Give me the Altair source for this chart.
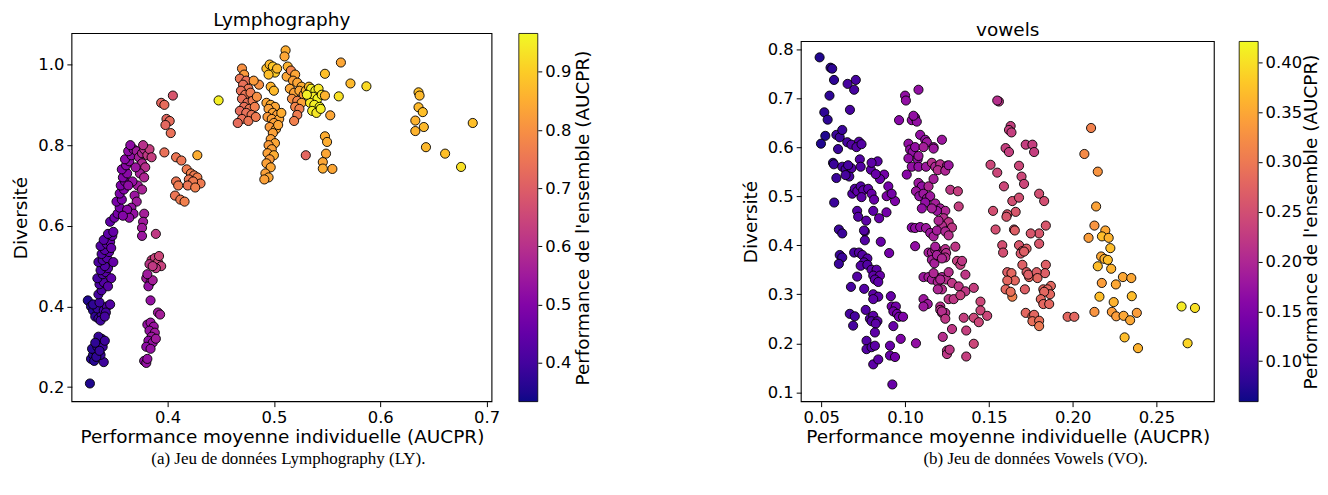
import altair as alt
import pandas as pd

FONT = "DejaVu Sans"
SERIF = "Liberation Serif"

X_TITLE = "Performance moyenne individuelle (AUCPR)"
Y_TITLE = "Diversité"
CB_TITLE = "Performance de l'ensemble (AUCPR)"

# ---------------- Lymphography (x, y, color) ----------------
ly_base = [(0.327, 0.209, 0.35),
           (0.328, 0.270, 0.36), (0.330, 0.280, 0.36), (0.332, 0.290, 0.37), (0.329, 0.295, 0.36),
           (0.334, 0.300, 0.37), (0.336, 0.310, 0.38), (0.338, 0.320, 0.38), (0.335, 0.325, 0.38),
           (0.331, 0.265, 0.36), (0.340, 0.262, 0.39), (0.337, 0.280, 0.38), (0.333, 0.275, 0.37),
           (0.339, 0.300, 0.39), (0.341, 0.315, 0.39), (0.336, 0.290, 0.38), (0.332, 0.310, 0.37)]
ly_mid = [(0.325, 0.415, 0.35), (0.328, 0.400, 0.36), (0.330, 0.390, 0.36), (0.332, 0.375, 0.37),
          (0.335, 0.370, 0.38), (0.338, 0.380, 0.39), (0.334, 0.395, 0.38), (0.340, 0.390, 0.40),
          (0.343, 0.400, 0.41), (0.346, 0.405, 0.42), (0.342, 0.385, 0.40), (0.337, 0.365, 0.39),
          (0.330, 0.405, 0.37), (0.336, 0.410, 0.39), (0.341, 0.375, 0.40)]
ly_col = [(0.335, 0.430, 0.40), (0.338, 0.440, 0.41), (0.336, 0.455, 0.41), (0.340, 0.460, 0.42),
          (0.334, 0.470, 0.40), (0.339, 0.480, 0.42), (0.342, 0.485, 0.43), (0.337, 0.490, 0.41),
          (0.344, 0.495, 0.43), (0.341, 0.500, 0.42), (0.335, 0.510, 0.41), (0.339, 0.515, 0.42),
          (0.343, 0.520, 0.43), (0.338, 0.530, 0.42), (0.345, 0.535, 0.44), (0.341, 0.540, 0.43),
          (0.337, 0.550, 0.42), (0.343, 0.555, 0.44), (0.346, 0.560, 0.45), (0.340, 0.565, 0.43),
          (0.348, 0.575, 0.45), (0.344, 0.580, 0.44), (0.347, 0.470, 0.44), (0.344, 0.450, 0.43),
          (0.349, 0.510, 0.45), (0.347, 0.545, 0.45), (0.346, 0.610, 0.44), (0.349, 0.585, 0.45)]
ly_upper = [(0.350, 0.620, 0.47), (0.353, 0.630, 0.48), (0.355, 0.645, 0.48), (0.352, 0.660, 0.48),
            (0.357, 0.665, 0.49), (0.355, 0.680, 0.49), (0.359, 0.690, 0.50), (0.356, 0.700, 0.49),
            (0.360, 0.710, 0.50), (0.358, 0.720, 0.50), (0.362, 0.730, 0.51), (0.357, 0.740, 0.50),
            (0.361, 0.750, 0.51), (0.364, 0.760, 0.52), (0.360, 0.765, 0.51), (0.366, 0.775, 0.52),
            (0.363, 0.785, 0.52), (0.368, 0.790, 0.53), (0.365, 0.800, 0.52), (0.371, 0.785, 0.55),
            (0.373, 0.770, 0.56), (0.376, 0.780, 0.58), (0.378, 0.790, 0.60), (0.381, 0.775, 0.62),
            (0.376, 0.755, 0.58), (0.379, 0.745, 0.60), (0.374, 0.730, 0.56), (0.378, 0.720, 0.58),
            (0.372, 0.700, 0.55), (0.376, 0.690, 0.57), (0.369, 0.675, 0.54), (0.371, 0.660, 0.55),
            (0.366, 0.645, 0.53), (0.368, 0.630, 0.53), (0.362, 0.640, 0.51), (0.364, 0.620, 0.52),
            (0.358, 0.625, 0.50), (0.367, 0.710, 0.53), (0.363, 0.700, 0.52), (0.370, 0.745, 0.54),
            (0.383, 0.790, 0.63), (0.385, 0.770, 0.63), (0.377, 0.800, 0.60)]
ly_second = [(0.378, 0.630, 0.56), (0.377, 0.610, 0.55), (0.376, 0.595, 0.55), (0.376, 0.575, 0.54),
             (0.389, 0.580, 0.62),
             (0.385, 0.515, 0.63), (0.388, 0.520, 0.64), (0.391, 0.510, 0.65), (0.394, 0.500, 0.64),
             (0.389, 0.495, 0.62), (0.383, 0.505, 0.61), (0.392, 0.525, 0.65), (0.386, 0.500, 0.62),
             (0.380, 0.470, 0.55), (0.384, 0.460, 0.54), (0.382, 0.450, 0.53), (0.386, 0.465, 0.56),
             (0.381, 0.480, 0.55), (0.384, 0.415, 0.53), (0.391, 0.385, 0.55), (0.393, 0.380, 0.56),
             (0.381, 0.355, 0.53), (0.384, 0.360, 0.54), (0.387, 0.350, 0.54), (0.383, 0.340, 0.53),
             (0.388, 0.335, 0.55), (0.385, 0.325, 0.54), (0.382, 0.315, 0.52), (0.386, 0.310, 0.53),
             (0.380, 0.300, 0.52), (0.389, 0.320, 0.55), (0.384, 0.295, 0.53),
             (0.378, 0.265, 0.52), (0.380, 0.260, 0.53), (0.381, 0.270, 0.53)]
ly_coral = [(0.405, 0.923, 0.68), (0.394, 0.905, 0.72), (0.397, 0.900, 0.73), (0.399, 0.865, 0.72),
            (0.402, 0.860, 0.73), (0.398, 0.850, 0.72), (0.403, 0.830, 0.74),
            (0.397, 0.782, 0.74), (0.408, 0.770, 0.75), (0.413, 0.762, 0.75), (0.428, 0.775, 0.85),
            (0.418, 0.740, 0.76), (0.422, 0.730, 0.77), (0.425, 0.725, 0.76), (0.420, 0.715, 0.75),
            (0.428, 0.720, 0.77), (0.431, 0.705, 0.76), (0.424, 0.710, 0.76), (0.419, 0.700, 0.75),
            (0.426, 0.695, 0.77), (0.408, 0.710, 0.75), (0.410, 0.700, 0.76), (0.407, 0.675, 0.75),
            (0.412, 0.665, 0.76), (0.416, 0.660, 0.77), (0.448, 0.911, 0.95)]
ly_coral2 = [(0.470, 0.990, 0.80), (0.472, 0.975, 0.82), (0.468, 0.965, 0.75), (0.474, 0.960, 0.74),
             (0.471, 0.950, 0.74), (0.476, 0.940, 0.75), (0.469, 0.935, 0.74), (0.473, 0.925, 0.75),
             (0.478, 0.930, 0.76), (0.470, 0.915, 0.74), (0.475, 0.905, 0.74), (0.480, 0.910, 0.76),
             (0.472, 0.895, 0.74), (0.477, 0.890, 0.75), (0.482, 0.895, 0.77), (0.468, 0.885, 0.73),
             (0.474, 0.880, 0.74), (0.479, 0.875, 0.75), (0.470, 0.865, 0.74), (0.476, 0.860, 0.75),
             (0.466, 0.855, 0.73), (0.483, 0.870, 0.76), (0.486, 0.950, 0.80), (0.484, 0.920, 0.80),
             (0.481, 0.960, 0.82)]
ly_orange = [(0.493, 0.905, 0.84), (0.497, 0.900, 0.85), (0.501, 0.895, 0.84), (0.495, 0.890, 0.83),
             (0.499, 0.880, 0.84), (0.503, 0.875, 0.83), (0.494, 0.870, 0.82), (0.498, 0.865, 0.83),
             (0.505, 0.865, 0.84), (0.500, 0.855, 0.83), (0.496, 0.845, 0.82), (0.502, 0.840, 0.84),
             (0.499, 0.830, 0.83), (0.497, 0.815, 0.83), (0.501, 0.805, 0.84), (0.495, 0.800, 0.82),
             (0.498, 0.790, 0.83), (0.494, 0.780, 0.83), (0.500, 0.775, 0.85), (0.496, 0.765, 0.82),
             (0.493, 0.755, 0.83), (0.497, 0.745, 0.84), (0.492, 0.730, 0.83), (0.495, 0.720, 0.84),
             (0.491, 0.715, 0.83), (0.504, 0.850, 0.84), (0.507, 0.880, 0.85),
             (0.493, 0.990, 0.88), (0.496, 1.000, 0.87), (0.499, 0.995, 0.89), (0.501, 0.980, 0.90),
             (0.495, 0.975, 0.88), (0.503, 0.990, 0.87), (0.511, 1.035, 0.85), (0.510, 1.020, 0.84),
             (0.513, 0.995, 0.86), (0.512, 0.970, 0.84), (0.497, 0.945, 0.86), (0.500, 0.935, 0.87)]
ly_mixed = [(0.516, 0.985, 0.78), (0.520, 0.975, 0.84), (0.518, 0.960, 0.83), (0.522, 0.955, 0.84),
            (0.526, 0.945, 0.85), (0.515, 0.940, 0.84), (0.519, 0.930, 0.83), (0.524, 0.935, 0.84),
            (0.528, 0.925, 0.82), (0.517, 0.915, 0.80), (0.522, 0.910, 0.78), (0.526, 0.905, 0.83),
            (0.520, 0.895, 0.78), (0.524, 0.890, 0.77), (0.522, 0.875, 0.76), (0.519, 0.860, 0.77),
            (0.530, 0.935, 0.86), (0.533, 0.945, 0.88), (0.530, 0.775, 0.72)]
ly_yellow = [(0.535, 0.940, 0.95), (0.539, 0.935, 0.96), (0.542, 0.940, 0.94), (0.537, 0.920, 0.95),
             (0.541, 0.915, 0.96), (0.545, 0.925, 0.94), (0.534, 0.905, 0.94), (0.538, 0.900, 0.95),
             (0.543, 0.895, 0.96), (0.536, 0.885, 0.95), (0.540, 0.880, 0.94), (0.544, 0.890, 0.95),
             (0.531, 0.925, 0.95)]
ly_right = [(0.548, 0.977, 0.88), (0.563, 1.005, 0.84), (0.572, 0.953, 0.87), (0.587, 0.946, 0.92),
            (0.561, 0.921, 0.93), (0.548, 0.923, 0.86), (0.553, 0.874, 0.84),
            (0.548, 0.822, 0.85), (0.550, 0.808, 0.85), (0.549, 0.779, 0.84), (0.546, 0.758, 0.84),
            (0.546, 0.742, 0.85), (0.555, 0.741, 0.84),
            (0.636, 0.931, 0.88), (0.637, 0.923, 0.87), (0.636, 0.894, 0.87), (0.640, 0.882, 0.88),
            (0.633, 0.861, 0.86), (0.641, 0.845, 0.87), (0.633, 0.835, 0.86), (0.643, 0.795, 0.87),
            (0.661, 0.779, 0.88), (0.676, 0.746, 0.93), (0.687, 0.855, 0.88)]

# ---------------- vowels (x, y, color) ----------------
vo_c1_top = [(0.049, 0.783, 0.07), (0.0555, 0.762, 0.08), (0.0565, 0.760, 0.08), (0.0576, 0.737, 0.08),
             (0.0549, 0.705, 0.08), (0.0657, 0.729, 0.10), (0.0706, 0.737, 0.10), (0.0696, 0.717, 0.10),
             (0.0518, 0.671, 0.08), (0.0538, 0.656, 0.08), (0.0671, 0.676, 0.10), (0.0524, 0.623, 0.07),
             (0.059, 0.625, 0.09), (0.061, 0.620, 0.09), (0.0625, 0.635, 0.09), (0.0498, 0.607, 0.07),
             (0.060, 0.596, 0.09), (0.0655, 0.610, 0.10), (0.068, 0.605, 0.11), (0.0725, 0.611, 0.11),
             (0.071, 0.600, 0.11), (0.074, 0.606, 0.11), (0.057, 0.568, 0.08), (0.0575, 0.565, 0.09),
             (0.0625, 0.560, 0.10), (0.0645, 0.555, 0.10), (0.068, 0.557, 0.11), (0.066, 0.563, 0.10),
             (0.073, 0.575, 0.11), (0.0735, 0.560, 0.11), (0.0667, 0.540, 0.10), (0.0645, 0.543, 0.10),
             (0.059, 0.537, 0.09), (0.0796, 0.554, 0.12), (0.0836, 0.571, 0.12), (0.0685, 0.505, 0.11),
             (0.070, 0.515, 0.11), (0.0715, 0.510, 0.12), (0.0735, 0.520, 0.11), (0.075, 0.512, 0.12),
             (0.074, 0.498, 0.12), (0.078, 0.515, 0.12), (0.080, 0.505, 0.13), (0.0577, 0.487, 0.09),
             (0.0815, 0.493, 0.13), (0.0714, 0.470, 0.11), (0.072, 0.458, 0.11), (0.0768, 0.450, 0.12),
             (0.0875, 0.544, 0.14), (0.089, 0.500, 0.15), (0.094, 0.490, 0.15), (0.0889, 0.467, 0.14),
             (0.076, 0.428, 0.11), (0.080, 0.568, 0.12), (0.085, 0.535, 0.13), (0.0825, 0.545, 0.13),
             (0.090, 0.520, 0.14), (0.092, 0.505, 0.14), (0.081, 0.470, 0.12), (0.0845, 0.455, 0.13)]
vo_c1_low = [(0.0605, 0.432, 0.09), (0.0625, 0.424, 0.09), (0.061, 0.380, 0.09), (0.0625, 0.375, 0.09),
             (0.0605, 0.362, 0.09), (0.0696, 0.385, 0.10), (0.0725, 0.385, 0.11), (0.0745, 0.380, 0.11),
             (0.0775, 0.373, 0.11), (0.0755, 0.365, 0.11), (0.0735, 0.358, 0.11), (0.0775, 0.360, 0.11),
             (0.0755, 0.430, 0.11), (0.076, 0.410, 0.11), (0.0855, 0.407, 0.13), (0.0905, 0.384, 0.14),
             (0.0714, 0.336, 0.11), (0.0677, 0.315, 0.10), (0.0756, 0.311, 0.11), (0.080, 0.350, 0.12),
             (0.083, 0.350, 0.12), (0.081, 0.338, 0.12), (0.085, 0.338, 0.13), (0.082, 0.330, 0.12),
             (0.084, 0.325, 0.12), (0.081, 0.300, 0.12), (0.084, 0.295, 0.12), (0.081, 0.290, 0.12),
             (0.0915, 0.296, 0.13), (0.067, 0.260, 0.10), (0.070, 0.255, 0.10), (0.069, 0.236, 0.10),
             (0.0765, 0.268, 0.11), (0.079, 0.250, 0.11), (0.081, 0.256, 0.12), (0.080, 0.245, 0.11),
             (0.0835, 0.245, 0.12), (0.0825, 0.240, 0.12), (0.082, 0.222, 0.12), (0.077, 0.205, 0.11),
             (0.077, 0.188, 0.11), (0.080, 0.192, 0.11), (0.082, 0.195, 0.12), (0.081, 0.157, 0.12),
             (0.084, 0.167, 0.12), (0.091, 0.195, 0.13), (0.091, 0.175, 0.13), (0.094, 0.172, 0.14),
             (0.092, 0.275, 0.14), (0.0945, 0.275, 0.14), (0.093, 0.265, 0.14), (0.0952, 0.260, 0.14),
             (0.0964, 0.254, 0.14), (0.0988, 0.254, 0.15), (0.093, 0.235, 0.13), (0.0974, 0.209, 0.15),
             (0.0924, 0.116, 0.13)]
vo_c2_top = [(0.100, 0.705, 0.17), (0.1005, 0.695, 0.17), (0.108, 0.717, 0.17), (0.0964, 0.655, 0.16),
             (0.104, 0.655, 0.17), (0.106, 0.660, 0.17), (0.107, 0.652, 0.17), (0.105, 0.664, 0.17),
             (0.102, 0.607, 0.17), (0.103, 0.595, 0.17), (0.1045, 0.590, 0.17), (0.106, 0.600, 0.17),
             (0.109, 0.625, 0.17), (0.112, 0.615, 0.17), (0.113, 0.610, 0.18), (0.111, 0.600, 0.19),
             (0.117, 0.600, 0.18), (0.122, 0.615, 0.18), (0.117, 0.597, 0.18), (0.102, 0.577, 0.17),
             (0.1075, 0.575, 0.17), (0.108, 0.582, 0.18), (0.101, 0.544, 0.16), (0.104, 0.560, 0.17),
             (0.108, 0.560, 0.17), (0.1125, 0.560, 0.18), (0.116, 0.568, 0.21), (0.118, 0.560, 0.20),
             (0.121, 0.565, 0.21), (0.125, 0.562, 0.20), (0.1195, 0.553, 0.21), (0.124, 0.552, 0.20),
             (0.126, 0.563, 0.18), (0.108, 0.527, 0.18), (0.110, 0.520, 0.17), (0.1065, 0.510, 0.18),
             (0.1085, 0.500, 0.17), (0.111, 0.505, 0.18), (0.113, 0.495, 0.18), (0.115, 0.500, 0.18),
             (0.112, 0.487, 0.17), (0.114, 0.520, 0.20), (0.117, 0.535, 0.19), (0.118, 0.485, 0.19),
             (0.121, 0.475, 0.19), (0.124, 0.470, 0.20), (0.119, 0.470, 0.18), (0.116, 0.475, 0.19),
             (0.110, 0.475, 0.17), (0.127, 0.513, 0.22), (0.1315, 0.510, 0.23), (0.132, 0.479, 0.23),
             (0.123, 0.455, 0.21), (0.126, 0.447, 0.22), (0.122, 0.440, 0.21), (0.128, 0.436, 0.22),
             (0.120, 0.450, 0.20)]
vo_c2_low = [(0.104, 0.436, 0.16), (0.106, 0.435, 0.17), (0.109, 0.437, 0.17), (0.1125, 0.435, 0.18),
             (0.115, 0.425, 0.18), (0.117, 0.418, 0.19), (0.119, 0.430, 0.19), (0.124, 0.428, 0.20),
             (0.126, 0.420, 0.21), (0.106, 0.398, 0.17), (0.114, 0.385, 0.19), (0.116, 0.385, 0.19),
             (0.118, 0.390, 0.20), (0.120, 0.388, 0.20), (0.116, 0.370, 0.19), (0.1175, 0.363, 0.19),
             (0.120, 0.377, 0.20), (0.122, 0.382, 0.21), (0.124, 0.392, 0.21), (0.1245, 0.384, 0.21),
             (0.124, 0.375, 0.21), (0.130, 0.397, 0.22), (0.118, 0.397, 0.19), (0.119, 0.380, 0.19),
             (0.122, 0.373, 0.20), (0.131, 0.368, 0.23), (0.133, 0.360, 0.23), (0.134, 0.368, 0.22),
             (0.111, 0.335, 0.18), (0.114, 0.335, 0.19), (0.118, 0.336, 0.20), (0.122, 0.335, 0.20),
             (0.116, 0.330, 0.19), (0.1195, 0.325, 0.20), (0.1245, 0.330, 0.21), (0.122, 0.310, 0.21),
             (0.1195, 0.310, 0.20), (0.117, 0.343, 0.20), (0.121, 0.330, 0.20), (0.126, 0.345, 0.21),
             (0.128, 0.323, 0.22), (0.132, 0.316, 0.22), (0.136, 0.306, 0.22), (0.136, 0.340, 0.22),
             (0.141, 0.313, 0.23), (0.111, 0.290, 0.18), (0.1135, 0.280, 0.18), (0.111, 0.275, 0.18),
             (0.1065, 0.200, 0.17), (0.121, 0.275, 0.21), (0.122, 0.262, 0.21), (0.124, 0.262, 0.21),
             (0.121, 0.268, 0.21), (0.125, 0.185, 0.22), (0.125, 0.178, 0.22),
             (0.126, 0.290, 0.22), (0.129, 0.290, 0.22), (0.133, 0.298, 0.23), (0.145, 0.285, 0.24),
             (0.145, 0.267, 0.24), (0.149, 0.256, 0.24), (0.122, 0.265, 0.21), (0.124, 0.250, 0.22),
             (0.128, 0.229, 0.22), (0.135, 0.252, 0.23), (0.141, 0.252, 0.24), (0.144, 0.243, 0.24),
             (0.1365, 0.226, 0.23), (0.1225, 0.213, 0.21), (0.141, 0.199, 0.24), (0.1266, 0.187, 0.22),
             (0.1365, 0.173, 0.23)]
vo_c3 = [(0.156, 0.693, 0.22), (0.155, 0.695, 0.21), (0.163, 0.643, 0.23), (0.162, 0.635, 0.23),
         (0.1635, 0.630, 0.23), (0.160, 0.598, 0.23), (0.162, 0.590, 0.23), (0.172, 0.605, 0.23),
         (0.176, 0.605, 0.23), (0.177, 0.590, 0.23), (0.151, 0.564, 0.24), (0.155, 0.548, 0.24),
         (0.168, 0.562, 0.24), (0.1695, 0.540, 0.24), (0.171, 0.525, 0.24), (0.180, 0.505, 0.25),
         (0.183, 0.490, 0.25), (0.164, 0.490, 0.25), (0.168, 0.497, 0.25), (0.166, 0.468, 0.26),
         (0.161, 0.463, 0.26), (0.1605, 0.458, 0.26), (0.154, 0.432, 0.25), (0.165, 0.432, 0.26),
         (0.1655, 0.430, 0.27), (0.184, 0.440, 0.26), (0.180, 0.424, 0.26), (0.175, 0.424, 0.26),
         (0.158, 0.400, 0.25), (0.1585, 0.385, 0.25), (0.168, 0.400, 0.26), (0.170, 0.388, 0.27),
         (0.1725, 0.393, 0.27), (0.169, 0.383, 0.26), (0.171, 0.387, 0.27), (0.180, 0.403, 0.26),
         (0.170, 0.360, 0.27), (0.1725, 0.345, 0.27), (0.174, 0.335, 0.28), (0.1735, 0.340, 0.27),
         (0.161, 0.345, 0.27), (0.1635, 0.343, 0.28), (0.184, 0.360, 0.27), (0.1835, 0.343, 0.27),
         (0.1785, 0.345, 0.27), (0.179, 0.333, 0.28), (0.1655, 0.328, 0.28), (0.161, 0.328, 0.28),
         (0.160, 0.310, 0.28), (0.164, 0.295, 0.31), (0.163, 0.305, 0.29), (0.1715, 0.310, 0.27),
         (0.1825, 0.310, 0.28), (0.187, 0.317, 0.28), (0.185, 0.310, 0.28), (0.1865, 0.300, 0.28),
         (0.183, 0.305, 0.28), (0.181, 0.290, 0.28), (0.1825, 0.280, 0.28), (0.186, 0.280, 0.28),
         (0.172, 0.262, 0.28), (0.176, 0.255, 0.29), (0.177, 0.258, 0.28), (0.176, 0.245, 0.29),
         (0.180, 0.246, 0.29), (0.180, 0.235, 0.30), (0.197, 0.254, 0.28), (0.201, 0.254, 0.28),
         (0.1525, 0.470, 0.25), (0.159, 0.520, 0.24)]
vo_c4 = [(0.211, 0.639, 0.31), (0.207, 0.586, 0.32), (0.215, 0.550, 0.33), (0.214, 0.479, 0.345),
         (0.213, 0.440, 0.33), (0.2095, 0.415, 0.34), (0.2195, 0.430, 0.35), (0.2175, 0.418, 0.37),
         (0.2215, 0.415, 0.36), (0.2225, 0.394, 0.37), (0.217, 0.377, 0.35), (0.219, 0.372, 0.36),
         (0.221, 0.370, 0.37), (0.215, 0.357, 0.37), (0.223, 0.352, 0.36), (0.230, 0.335, 0.35),
         (0.235, 0.333, 0.35), (0.2258, 0.320, 0.35), (0.2174, 0.323, 0.34), (0.216, 0.295, 0.37),
         (0.2353, 0.296, 0.37), (0.2245, 0.284, 0.36), (0.213, 0.264, 0.33), (0.2234, 0.264, 0.34),
         (0.226, 0.255, 0.34), (0.2304, 0.256, 0.35), (0.2343, 0.247, 0.35), (0.2383, 0.262, 0.34),
         (0.231, 0.212, 0.37), (0.239, 0.190, 0.36),
         (0.265, 0.275, 0.41), (0.273, 0.272, 0.40), (0.2686, 0.200, 0.39)]

# axes / scales
LY_XDOM = [0.310, 0.705]
LY_YDOM = [0.164, 1.077]
LY_CDOM = [0.333, 0.966]
LY_XTICKS = [0.4, 0.5, 0.6, 0.7]
LY_YTICKS = [0.2, 0.4, 0.6, 0.8, 1.0]
LY_CTICKS = [0.4, 0.5, 0.6, 0.7, 0.8, 0.9]

VO_XDOM = [0.038, 0.2845]
VO_YDOM = [0.081, 0.8155]
VO_CDOM = [0.0594, 0.421]
VO_XTICKS = [0.05, 0.10, 0.15, 0.20, 0.25]
VO_YTICKS = [0.1, 0.2, 0.3, 0.4, 0.5, 0.6, 0.7, 0.8]
VO_CTICKS = [0.10, 0.15, 0.20, 0.25, 0.30, 0.35, 0.40]

TITLES = ["Lymphography", "vowels"]
CAPTIONS = ["(a) Jeu de données Lymphography (LY).", "(b) Jeu de données Vowels (VO)."]

H = 369  # common cell height (plot tops are aligned by the concat layout)


def panel(points, W, top, xdom, ydom, cdom, xt, yt, ct, xfmt, cfmt, title, title_gap,
          caption, caption_x, cb_gap, cb_tpad):
    df = pd.DataFrame(points, columns=["x", "y", "c"])
    yrange = [H, top]
    pts = alt.Chart(df).mark_circle(size=84, stroke="black", strokeWidth=0.9, opacity=1).encode(
        x=alt.X("x:Q", scale=alt.Scale(domain=xdom, nice=False, zero=False),
                axis=alt.Axis(values=xt, format=xfmt, title=X_TITLE, titlePadding=2)),
        y=alt.Y("y:Q", scale=alt.Scale(domain=ydom, range=yrange, nice=False, zero=False),
                axis=alt.Axis(values=yt, format=".1f", title=Y_TITLE, titlePadding=7)),
        color=alt.Color("c:Q", scale=alt.Scale(scheme="plasma", domain=cdom, nice=False, zero=False),
                        legend=alt.Legend(orient="none", legendX=W + cb_gap, legendY=top,
                                          direction="vertical",
                                          gradientLength=H - top, gradientThickness=19, title=None,
                                          labelExpr="''", padding=0,
                                          gradientStrokeColor="black", gradientStrokeWidth=0.8)),
    )
    cb = alt.Chart(pd.DataFrame({"v": ct})).mark_point(opacity=0, size=1).encode(
        x=alt.value(W + cb_gap + 9),
        y=alt.Y("v:Q", scale=alt.Scale(domain=cdom, range=yrange, nice=False, zero=False),
                axis=alt.Axis(orient="right", offset=cb_gap + 19, values=ct, format=cfmt,
                              title=CB_TITLE, titleAngle=270, titleBaseline="top",
                              titlePadding=cb_tpad, tickSize=4, labelPadding=3)),
    )
    frame = alt.Chart(pd.DataFrame({"f": [0]})).mark_rect(
        fillOpacity=0, stroke="black", strokeWidth=1.1).encode(
        x=alt.value(0), x2=alt.value(W), y=alt.value(top), y2=alt.value(H))
    ttl = alt.Chart(pd.DataFrame({"t": [title]})).mark_text(
        font=FONT, fontSize=18.5, align="center", baseline="middle", color="black").encode(
        x=alt.value(W / 2), y=alt.value(top - title_gap), text="t:N")
    cap = alt.Chart(pd.DataFrame({"t": [caption]})).mark_text(
        font=SERIF, fontSize=17, align="center", baseline="middle", color="black").encode(
        x=alt.value(caption_x), y=alt.value(H + 58), text="t:N")
    return alt.layer(pts, cb, frame, ttl, cap).resolve_scale(y="independent").properties(
        width=W, height=H)


left = panel(ly_base + ly_mid + ly_col + ly_upper + ly_second + ly_coral + ly_coral2 + ly_orange
             + ly_mixed + ly_yellow + ly_right,
             421, 0, LY_XDOM, LY_YDOM, LY_CDOM, LY_XTICKS, LY_YTICKS, LY_CTICKS, ".1f", ".1f",
             TITLES[0], 13, CAPTIONS[0], 217, 27, 3)
right = panel(vo_c1_top + vo_c1_low + vo_c2_top + vo_c2_low + vo_c3 + vo_c4,
              414, 8, VO_XDOM, VO_YDOM, VO_CDOM, VO_XTICKS, VO_YTICKS, VO_CTICKS, ".2f", ".2f",
              TITLES[1], 11, CAPTIONS[1], 235, 25, 0)

chart = alt.hconcat(left, right, spacing=148).resolve_scale(
    color="independent", x="independent", y="independent"
).properties(
    padding={"left": 3, "top": 3, "right": 0, "bottom": 0}
).configure_view(stroke=None).configure_axis(
    labelFont=FONT, labelFontSize=16.4, labelColor="black",
    titleFont=FONT, titleFontSize=18.5, titleFontWeight="normal", titleColor="black",
    tickColor="black", tickSize=5, tickWidth=1, labelPadding=3, domain=False, grid=False,
).configure_text(font=FONT)

chart.save("out.html", embed_options={"renderer": "svg", "actions": False})
